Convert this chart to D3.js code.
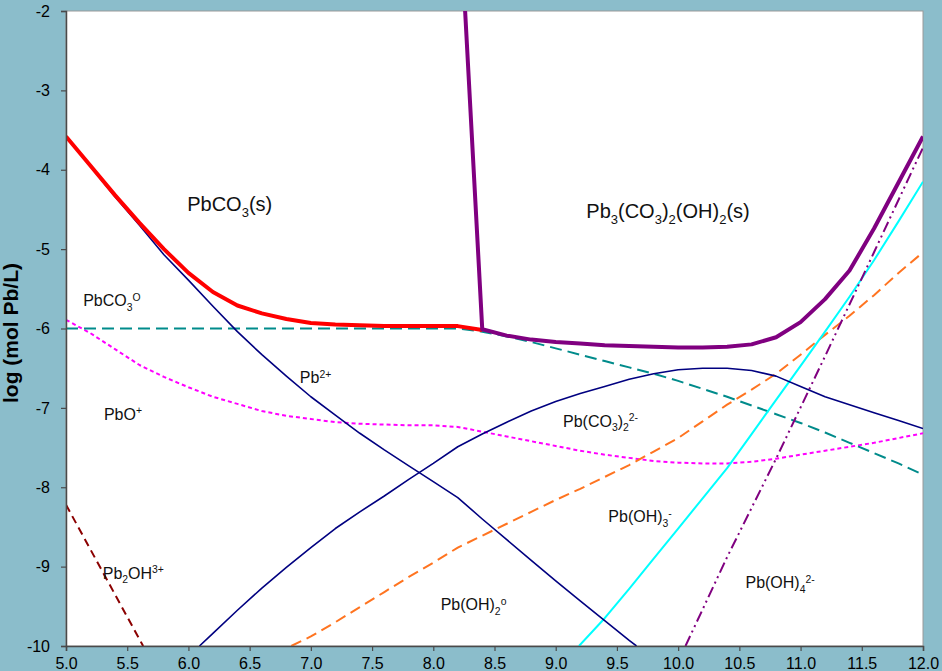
<!DOCTYPE html>
<html>
<head>
<meta charset="utf-8">
<script src="https://cdn.jsdelivr.net/npm/d3@7"></script>
<style>
  html, body { margin: 0; padding: 0; background: #8bbdcb; }
  svg { display: block; }
  text { font-family: "Liberation Sans", Arial, sans-serif; }
</style>
</head>
<body>
<script>
var width = 942;
var height = 671;
var plot = { left: 66, right: 923, top: 11, bottom: 646 };

// pH / log concentration pairs
var pbco3Solid = [
    [5.0, -3.58], [5.2, -3.95], [5.4, -4.32], [5.6, -4.67], [5.8, -5.00], [6.0, -5.30],
    [6.2, -5.54], [6.4, -5.71], [6.6, -5.81], [6.8, -5.88], [7.0, -5.93], [7.2, -5.95],
    [7.4, -5.96], [7.6, -5.97], [7.8, -5.97], [8.0, -5.97], [8.2, -5.97], [8.4, -6.02]
];
var hydrocerussite = [
    [8.26, -2.0], [8.40, -6.01], [8.6, -6.09], [8.8, -6.14], [9.0, -6.17], [9.2, -6.19],
    [9.4, -6.21], [9.6, -6.22], [9.8, -6.23], [10.0, -6.24], [10.2, -6.24], [10.4, -6.23],
    [10.6, -6.20], [10.8, -6.11], [11.0, -5.92], [11.2, -5.63], [11.4, -5.27], [11.6, -4.74],
    [11.8, -4.16], [12.0, -3.58]
];
var pbco3Aq = [
    [5.0, -6.0], [8.2, -6.0], [8.4, -6.04], [8.6, -6.10], [8.8, -6.17], [9.0, -6.25],
    [9.2, -6.33], [9.4, -6.41], [9.6, -6.49], [9.8, -6.57], [10.0, -6.66], [10.2, -6.76],
    [10.4, -6.86], [10.6, -6.97], [10.8, -7.08], [11.0, -7.19], [11.2, -7.31], [11.4, -7.44],
    [11.6, -7.57], [11.8, -7.70], [12.0, -7.84]
];
var pb2plus = [
    [5.0, -3.58], [5.2, -3.96], [5.4, -4.34], [5.6, -4.70], [5.8, -5.07], [6.0, -5.39],
    [6.2, -5.72], [6.4, -6.04], [6.6, -6.33], [6.8, -6.60], [7.0, -6.86], [7.2, -7.09],
    [7.4, -7.32], [7.6, -7.53], [7.8, -7.73], [8.0, -7.93], [8.2, -8.13], [8.4, -8.40],
    [8.6, -8.66], [8.8, -8.92], [9.0, -9.18], [9.2, -9.43], [9.4, -9.68], [9.6, -9.93],
    [9.66, -10.0]
];
var pbco32 = [
    [6.09, -10.0], [6.2, -9.84], [6.4, -9.55], [6.6, -9.27], [6.8, -9.01], [7.0, -8.76],
    [7.2, -8.52], [7.4, -8.31], [7.6, -8.11], [7.8, -7.90], [8.0, -7.70], [8.2, -7.49],
    [8.4, -7.33], [8.6, -7.18], [8.8, -7.04], [9.0, -6.92], [9.2, -6.82], [9.4, -6.73],
    [9.6, -6.64], [9.8, -6.57], [10.0, -6.52], [10.2, -6.50], [10.4, -6.50], [10.6, -6.53],
    [10.8, -6.60], [11.0, -6.73], [11.2, -6.86], [11.4, -6.96], [11.6, -7.06], [11.8, -7.16],
    [12.0, -7.26]
];
var pboPlus = [
    [5.0, -5.89], [5.2, -6.06], [5.4, -6.26], [5.6, -6.46], [5.8, -6.61], [6.0, -6.74],
    [6.2, -6.86], [6.4, -6.95], [6.6, -7.04], [6.8, -7.10], [7.0, -7.14], [7.2, -7.18],
    [7.4, -7.20], [7.6, -7.21], [7.8, -7.22], [8.0, -7.22], [8.2, -7.24], [8.4, -7.30],
    [8.6, -7.36], [8.8, -7.42], [9.0, -7.48], [9.2, -7.54], [9.4, -7.59], [9.6, -7.63],
    [9.8, -7.67], [10.0, -7.69], [10.2, -7.70], [10.4, -7.70], [10.6, -7.68], [10.8, -7.64],
    [11.0, -7.59], [11.2, -7.54], [11.4, -7.49], [11.6, -7.44], [11.8, -7.38], [12.0, -7.32]
];
var pboh2 = [
    [6.84, -10.0], [7.0, -9.88], [7.2, -9.70], [7.4, -9.51], [7.6, -9.32], [7.8, -9.13],
    [8.0, -8.95], [8.2, -8.76], [8.4, -8.61], [8.6, -8.46], [8.8, -8.31], [9.0, -8.16],
    [9.2, -8.02], [9.4, -7.87], [9.6, -7.72], [9.8, -7.55], [10.0, -7.38], [10.2, -7.17],
    [10.4, -6.96], [10.6, -6.77], [10.8, -6.57], [11.0, -6.33], [11.2, -6.08], [11.4, -5.84],
    [11.6, -5.58], [11.8, -5.30], [12.0, -5.04]
];
var pboh3 = [
    [9.19, -10.0], [9.4, -9.65], [9.6, -9.28], [9.8, -8.90], [10.0, -8.52], [10.2, -8.14],
    [10.4, -7.76], [10.6, -7.33], [10.8, -6.90], [11.0, -6.47], [11.2, -6.04], [11.4, -5.60],
    [11.6, -5.14], [11.8, -4.65], [12.0, -4.15]
];
var pboh4 = [
    [10.06, -10.0], [10.4, -8.88], [10.8, -7.64], [11.2, -6.35], [11.6, -5.04], [12.0, -3.72]
];
var pb2oh = [
    [5.0, -8.22], [5.63, -10.0]
];

var xTicks = d3.range(5, 12.01, 0.5);
var yTicks = d3.range(-10, -1, 1);

var labels = [
    { text: 'PbCO_{3}(s)', at: [5.99, -4.52], size: 20 },
    { text: 'Pb_{3}(CO_{3})_{2}(OH)_{2}(s)', at: [9.25, -4.61], size: 20 },
    { text: 'PbCO_{3}^{O}', at: [5.14, -5.72], size: 16 },
    { text: 'PbO^{+}', at: [5.31, -7.15], size: 16 },
    { text: 'Pb^{2+}', at: [6.91, -6.69], size: 16 },
    { text: 'Pb(CO_{3})_{2}^{2-}', at: [9.06, -7.24], size: 16 },
    { text: 'Pb(OH)_{3}^{-}', at: [9.43, -8.44], size: 16 },
    { text: 'Pb_{2}OH^{3+}', at: [5.30, -9.15], size: 16 },
    { text: 'Pb(OH)_{2}^{o}', at: [8.06, -9.55], size: 16 },
    { text: 'Pb(OH)_{4}^{2-}', at: [10.55, -9.27], size: 16 }
];

var x = d3.scaleLinear().domain([5, 12]).range([plot.left, plot.right]);
var y = d3.scaleLinear().domain([-10, -2]).range([plot.bottom, plot.top]);

var svg = d3.select('body')
    .append('svg')
    .attr('width', width)
    .attr('height', height);

svg.append('rect')
    .attr('width', width)
    .attr('height', height)
    .attr('fill', '#8bbdcb');

svg.append('defs').append('clipPath')
    .attr('id', 'plotClip')
    .append('rect')
    .attr('x', plot.left)
    .attr('y', plot.top)
    .attr('width', plot.right - plot.left)
    .attr('height', plot.bottom - plot.top);

svg.append('rect')
    .attr('x', plot.left)
    .attr('y', plot.top)
    .attr('width', plot.right - plot.left)
    .attr('height', plot.bottom - plot.top)
    .attr('fill', '#ffffff')
    .attr('stroke', '#9a9a9a')
    .attr('stroke-width', 1);

var line = d3.line()
    .x(function(d) { return x(d[0]); })
    .y(function(d) { return y(d[1]); });

var series = [
    { data: pb2oh, color: '#8b0000', width: 2, dash: '8,5' },
    { data: pboPlus, color: '#ff00ff', width: 2, dash: '4,3' },
    { data: pbco3Aq, color: '#008b8b', width: 2, dash: '12,6' },
    { data: pboh2, color: '#ff7420', width: 2, dash: '11,6' },
    { data: pboh3, color: '#00ffff', width: 2, dash: null },
    { data: pboh4, color: '#800080', width: 2, dash: '11,4,2,4,2,4' },
    { data: pb2plus, color: '#000080', width: 1.6, dash: null },
    { data: pbco32, color: '#000080', width: 1.6, dash: null },
    { data: pbco3Solid, color: '#ff0000', width: 4, dash: null },
    { data: hydrocerussite, color: '#800080', width: 4, dash: null }
];

var curves = svg.append('g').attr('clip-path', 'url(#plotClip)');
curves.selectAll('path')
    .data(series)
    .enter()
    .append('path')
    .attr('d', function(d) { return line(d.data); })
    .attr('fill', 'none')
    .attr('stroke', function(d) { return d.color; })
    .attr('stroke-width', function(d) { return d.width; })
    .attr('stroke-dasharray', function(d) { return d.dash; })
    .attr('stroke-linejoin', 'round');

// axes
var xAxis = svg.append('g')
    .attr('transform', 'translate(0,' + plot.bottom + ')')
    .call(d3.axisBottom(x).tickValues(xTicks).tickSize(5).tickPadding(7)
        .tickFormat(d3.format('.1f')));
var yAxis = svg.append('g')
    .attr('transform', 'translate(' + plot.left + ',0)')
    .call(d3.axisLeft(y).tickValues(yTicks).tickSize(5).tickPadding(11)
        .tickFormat(function(d) { return String(d); }));

[xAxis, yAxis].forEach(function(a) {
    a.select('.domain').attr('stroke', '#4a4a4a').attr('stroke-width', 1.5);
    a.selectAll('.tick line').attr('stroke', '#4a4a4a').attr('stroke-width', 1.2);
    a.selectAll('.tick text')
        .attr('fill', '#000')
        .attr('font-size', 16)
        .attr('font-family', '"Liberation Sans", Arial, sans-serif');
});

// y title, kept just inside the left edge
svg.append('text')
    .attr('transform', 'translate(18,333) rotate(-90)')
    .attr('text-anchor', 'middle')
    .attr('font-size', 21)
    .attr('font-weight', 'bold')
    .attr('fill', '#000')
    .text('log (mol Pb/L)');

// labels with sub/superscripts: _{..} and ^{..}
function addLabel(g, str, px, py, size) {
    var t = g.append('text')
        .attr('x', px)
        .attr('y', py)
        .attr('font-size', size)
        .attr('fill', '#111');
    var re = /([_^])\{([^}]*)\}|([^_^]+)/g;
    var m, shift = 0;
    while ((m = re.exec(str))) {
        var target = 0, txt, fs = size;
        if (m[1]) {
            target = m[1] === '_' ? size * 0.28 : -size * 0.34;
            txt = m[2];
            fs = size * 0.65;
        } else {
            txt = m[3];
        }
        t.append('tspan')
            .attr('dy', target - shift)
            .attr('font-size', fs)
            .text(txt);
        shift = target;
    }
}

var labelGroup = svg.append('g');
labels.forEach(function(l) {
    addLabel(labelGroup, l.text, x(l.at[0]), y(l.at[1]), l.size);
});
</script>
</body>
</html>
